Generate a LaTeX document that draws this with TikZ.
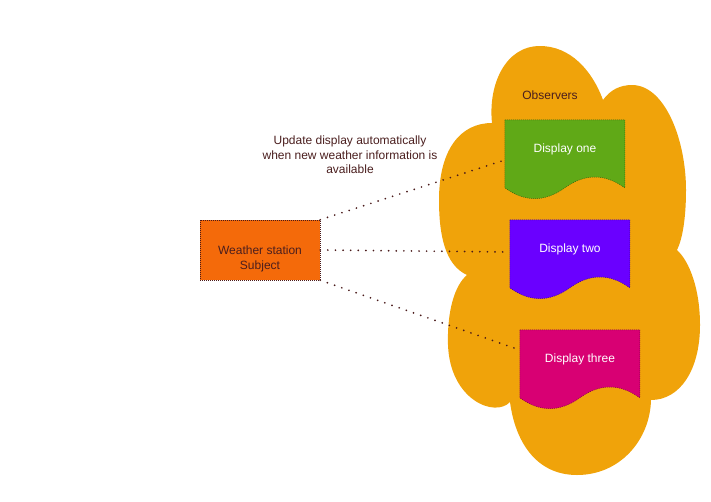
\documentclass[tikz,border=0pt]{standalone}
\usepackage{fontspec}
\setmainfont{Liberation Sans}
\usetikzlibrary{calc}
\definecolor{cloudc}{HTML}{F0A30A}
\definecolor{wsc}{HTML}{F46A0A}
\definecolor{d1c}{HTML}{60A917}
\definecolor{d2c}{HTML}{6A00FF}
\definecolor{d3c}{HTML}{D80073}
\definecolor{txtc}{HTML}{4A1E1E}
\definecolor{linec}{HTML}{4A1A1A}
\tikzset{
  lbl/.style={font=\fontsize{12}{14.5}\selectfont, text=txtc, align=center, inner sep=0},
  wlbl/.style={font=\fontsize{12}{14.5}\selectfont, text=white, align=center, inner sep=0},
  dispnode/.style={rectangle, minimum width=120, minimum height=80, inner sep=0},
  conn/.style={draw=linec, line width=1.9pt, line cap=round, dash pattern=on 0pt off 7.6pt},
  fineborder/.style={draw=linec, line width=0.5pt, dash pattern=on 1pt off 1pt},
}
\begin{document}
\begin{tikzpicture}[x=1pt,y=-1pt]
\useasboundingbox (0,0) rectangle (711,501);
% cloud
\fill[cloudc] (492,123) .. controls (488,85) and (505,46) .. (540,46)
  .. controls (570,46) and (592,70) .. (603,100)
  .. controls (610,90) and (620,85) .. (632,85)
  .. controls (665,85) and (686,140) .. (686,190)
  .. controls (686,220) and (682,240) .. (677,250)
  .. controls (690,262) and (700,290) .. (700,325)
  .. controls (700,370) and (680,400) .. (651,400)
  .. controls (650,440) and (620,475) .. (577,475)
  .. controls (535,475) and (515,440) .. (510,402)
  .. controls (495,418) and (450,400) .. (448,345)
  .. controls (447,310) and (455,285) .. (467,275)
  .. controls (445,265) and (439,235) .. (439,200)
  .. controls (439,150) and (460,123) .. (492,123) -- cycle;
\node[lbl] (obs) at (550,95) {Observers};
% weather station
\node[rectangle, minimum width=120, minimum height=60, inner sep=0, fill=wsc, fineborder] (ws) at (260,250) {};
\node[lbl] (wst) at ($(ws.center)+(0,9)$) {Weather station\\Subject};
% displays
\node[dispnode] (d1) at (565,160) {};
\node[dispnode] (d2) at (570,260) {};
\node[dispnode] (d3) at (580,370) {};
\begin{scope}[shift={(d1.north west)}]
\path[fill=d1c, fineborder, draw=d1c!60!black] (0,0) -- (120,0) -- (120,68) .. controls (100,53.6) and (80,53.6) .. (60,68) .. controls (40,82.4) and (20,82.4) .. (0,68) -- cycle;
\end{scope}
\begin{scope}[shift={(d2.north west)}]
\path[fill=d2c, fineborder, draw=d2c!60!black] (0,0) -- (120,0) -- (120,68) .. controls (100,53.6) and (80,53.6) .. (60,68) .. controls (40,82.4) and (20,82.4) .. (0,68) -- cycle;
\end{scope}
\begin{scope}[shift={(d3.north west)}]
\path[fill=d3c, fineborder, draw=d3c!60!black] (0,0) -- (120,0) -- (120,68) .. controls (100,53.6) and (80,53.6) .. (60,68) .. controls (40,82.4) and (20,82.4) .. (0,68) -- cycle;
\end{scope}
\node[wlbl] (d1t) at ($(d1.north)+(0,30)$) {Display one};
\node[wlbl] (d2t) at ($(d2.north)+(0,30)$) {Display two};
\node[wlbl] (d3t) at ($(d3.north)+(0,30)$) {Display three};
% connector end points
\coordinate (e2) at ($(d2.west)+(0,-8)$);
\coordinate (e3) at ($(d3.west)+(0,-20)$);
\draw[conn] (ws.north east) -- (d1.west);
\draw[conn] (ws.east) -- (e2);
\draw[conn] (ws.south east) -- (e3);
% label
\node[lbl] (upd) at (350,155) {Update display automatically\\when new weather information is\\available};
\end{tikzpicture}
\end{document}
